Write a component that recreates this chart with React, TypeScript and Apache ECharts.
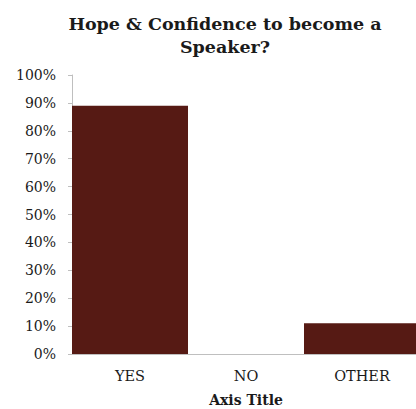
import React, { useEffect, useRef } from "react";
import * as echarts from "echarts";

// Survey answers and their share of respondents (percent)
const categories = ["YES", "NO", "OTHER"];
const shares = [89, 0, 11];
const titleText = "Hope & Confidence to become a\nSpeaker?";
const xAxisTitle = "Axis Title";

const SERIF = "'DejaVu Serif', 'Liberation Serif', serif";

export default function App() {
  const ref = useRef<HTMLDivElement>(null);

  useEffect(() => {
    document.body.style.margin = "0";
    if (!ref.current) return;
    const chart = echarts.init(ref.current, undefined, { renderer: "svg" });
    chart.setOption({
      animation: false,
      backgroundColor: "#ffffff",
      title: {
        text: titleText,
        left: 220,
        top: 7,
        textAlign: "center",
        textStyle: {
          fontFamily: SERIF,
          fontWeight: "bold",
          fontSize: 17.5,
          lineHeight: 23,
          color: "#1a1a1a",
        },
      },
      grid: {
        left: 72,
        right: -4,
        top: 75,
        bottom: 55,
        containLabel: false,
        outerBoundsMode: "none",
      },
      xAxis: {
        type: "category",
        data: categories,
        name: xAxisTitle,
        nameLocation: "middle",
        nameGap: 39,
        nameTextStyle: {
          fontFamily: SERIF,
          fontWeight: "bold",
          fontSize: 14,
          color: "#1a1a1a",
        },
        axisLine: { lineStyle: { color: "#bfbfbf", width: 1 } },
        axisTick: { show: false },
        axisLabel: {
          fontFamily: SERIF,
          fontSize: 14.5,
          color: "#1a1a1a",
          margin: 14,
        },
      },
      yAxis: {
        type: "value",
        min: 0,
        max: 100,
        interval: 10,
        axisLine: { show: true, lineStyle: { color: "#bfbfbf", width: 1 } },
        axisTick: { show: true, length: 4, lineStyle: { color: "#bfbfbf" } },
        splitLine: { show: false },
        axisLabel: {
          formatter: "{value}%",
          fontFamily: SERIF,
          fontSize: 14,
          color: "#1a1a1a",
          margin: 16,
        },
      },
      series: [
        {
          type: "bar",
          data: shares,
          barCategoryGap: "0%",
          itemStyle: { color: "#561a14" },
        },
      ],
    });
    return () => chart.dispose();
  }, []);

  return <div ref={ref} style={{ width: 416, height: 409 }} />;
}
